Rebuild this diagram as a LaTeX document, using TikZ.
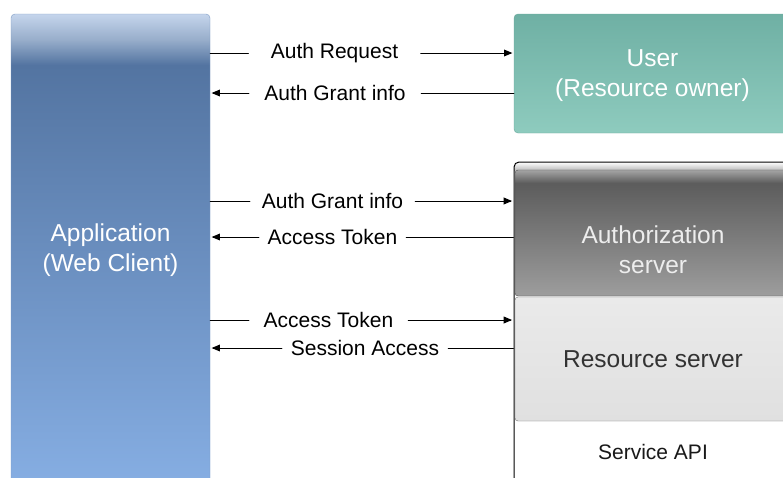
\documentclass[tikz,border=0pt]{standalone}
\usepackage{fontspec}
\setmainfont{Liberation Sans}
\usetikzlibrary{arrows}
\definecolor{apptop}{HTML}{C5D5EC}
\definecolor{appband}{HTML}{98AECB}
\definecolor{appmid}{HTML}{5374A1}
\definecolor{appbot}{HTML}{86AEE3}
\definecolor{appline}{HTML}{7F9CC4}
\definecolor{usertop}{HTML}{6FB0A4}
\definecolor{userbot}{HTML}{8ECBBE}
\definecolor{userline}{HTML}{6AA99C}
\definecolor{framebnd}{HTML}{BDBDBD}
\definecolor{authtop}{HTML}{A5A5A5}
\definecolor{authmid}{HTML}{5C5C5C}
\definecolor{authbot}{HTML}{9D9D9D}
\definecolor{restop}{HTML}{EAEAEA}
\definecolor{resbot}{HTML}{E0E0E0}
\pgfdeclareverticalshading{appshade}{100bp}{color(0bp)=(appbot); color(25bp)=(appbot); color(69.6bp)=(appmid); color(72.3bp)=(appband); color(75bp)=(apptop); color(100bp)=(apptop)}
\pgfdeclareverticalshading{frameshade}{100bp}{color(0bp)=(white); color(73.6bp)=(white); color(73.8bp)=(framebnd); color(75bp)=(white); color(100bp)=(white)}
\pgfdeclareverticalshading{authshade}{100bp}{color(0bp)=(authbot); color(25bp)=(authbot); color(69.8bp)=(authmid); color(75bp)=(authtop); color(100bp)=(authtop)}
\tikzstyle{every node}=[font=\fontsize{21}{25}\selectfont]
\tikzstyle{box}=[inner sep=0pt, rounded corners=4pt, align=center, font=\fontsize{24.5}{30}\selectfont]
\tikzset{msg/.style={inner sep=0pt, minimum width=#1}}

\begin{document}
\begin{tikzpicture}[line cap=round,line join=round,>=triangle 45,x=1pt,y=-1pt]
\useasboundingbox (0,0) rectangle (783,477);
\clip (0,0) rectangle (783,477);
% boxes
\node[box, minimum width=199pt, minimum height=472pt, shading=appshade, draw=appline, text=white] (app) at (110.5,250) {Application\\(Web Client)};
\node[box, minimum width=277pt, minimum height=119pt, top color=usertop, bottom color=userbot, draw=userline, text=white] (user) at (652.5,73.5) {};
\node[box, text=white] (userlbl) at (652.5,75.5) {User\\(Resource owner)};
\node[box, rounded corners=5pt, minimum width=278pt, minimum height=328pt, shading=frameshade, draw=black, line width=1pt] (srv) at (653,326) {};
\node[box, rounded corners=3pt, minimum width=276pt, minimum height=126pt, shading=authshade, draw=black!70] (auth) at (653,233) {};
\node[box, text=white!93!black] (authlbl) at (653,249.5) {Authorization\\server};
\node[box, rounded corners=3pt, minimum width=276pt, minimum height=124pt, top color=restop, bottom color=resbot, draw=black!55, text=black!80] (res) at (653,359) {Resource server};
\node[text=black!90] (api) at (653,452) {Service API};
% messages
\node[msg=172pt] (m1) at (334.5,53) {Auth Request};
\node[msg=172pt] (m2) at (335,93) {Auth Grant info};
\node[msg=165pt] (m3) at (332.5,201) {Auth Grant info};
\node[msg=147pt] (m4) at (332.5,237) {Access Token};
\node[msg=159pt] (m5) at (328.5,320) {Access Token};
\node[msg=166pt] (m6) at (365,348) {Session Access};
\begin{scope}[line width=0.9pt]
\draw (app.east |- m1) -- (m1.west);
\draw [->,shorten >=1.5pt] (m1.east) -- (user.west |- m1);
\draw (user.west |- m2) -- (m2.east);
\draw [->,shorten >=1.5pt] (m2.west) -- (app.east |- m2);
\draw (app.east |- m3) -- (m3.west);
\draw [->,shorten >=1.5pt] (m3.east) -- (srv.west |- m3);
\draw (srv.west |- m4) -- (m4.east);
\draw [->,shorten >=1.5pt] (m4.west) -- (app.east |- m4);
\draw (app.east |- m5) -- (m5.west);
\draw [->,shorten >=1.5pt] (m5.east) -- (srv.west |- m5);
\draw (srv.west |- m6) -- (m6.east);
\draw [->,shorten >=1.5pt] (m6.west) -- (app.east |- m6);
\end{scope}
\end{tikzpicture}
\end{document}
